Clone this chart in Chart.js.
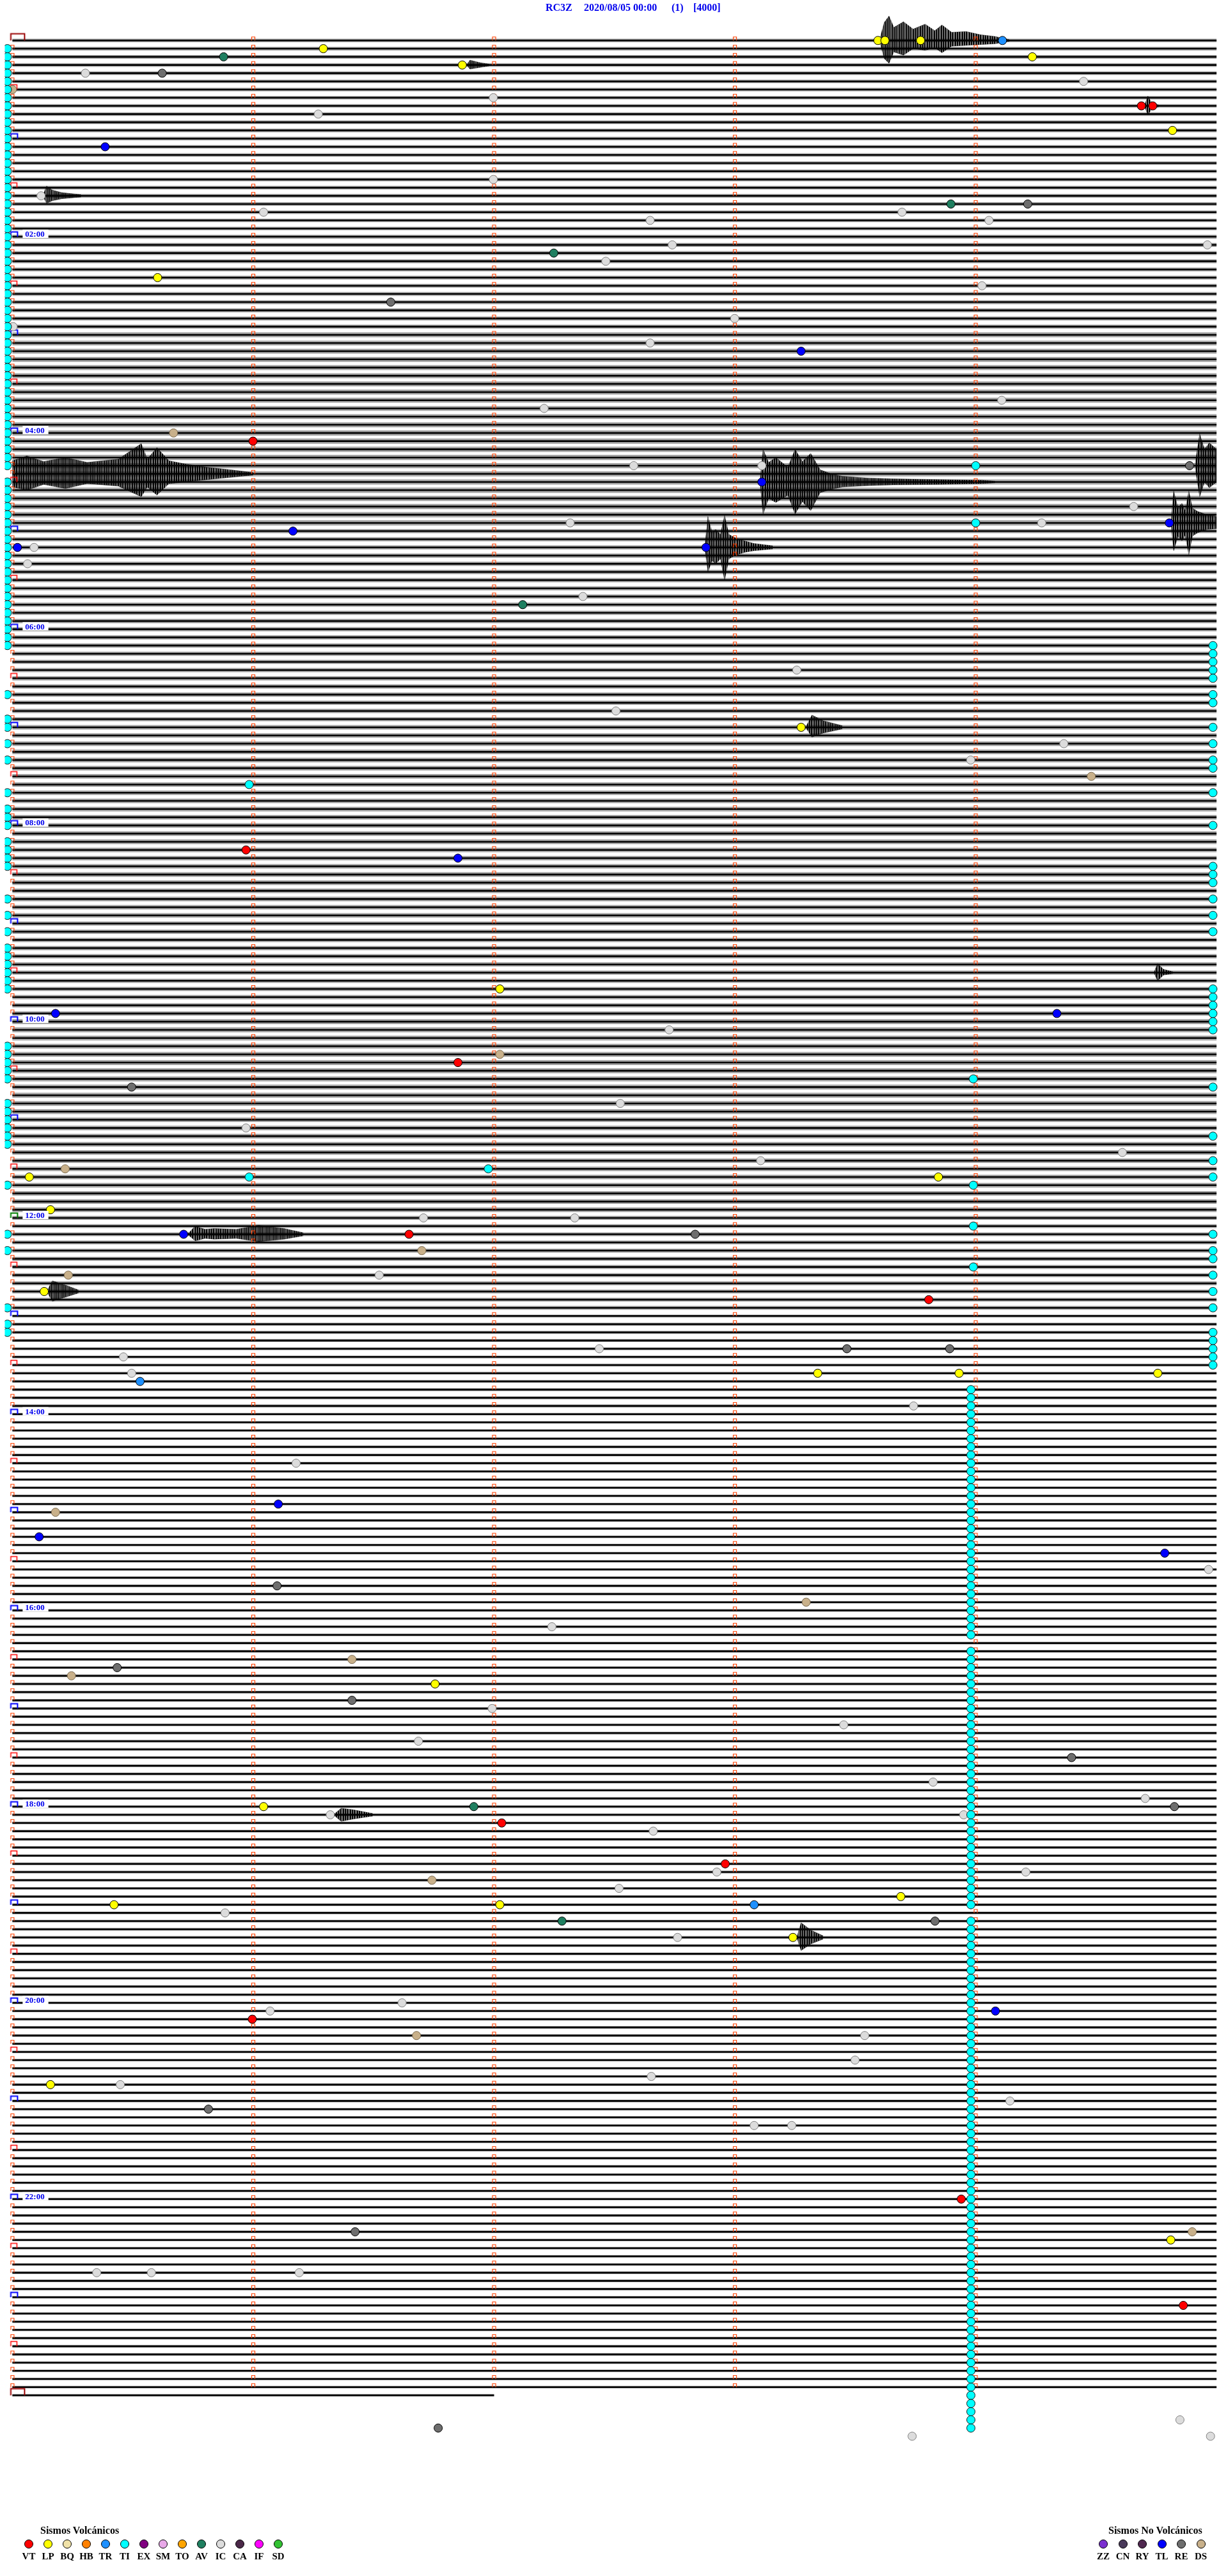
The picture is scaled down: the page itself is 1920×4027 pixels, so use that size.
<!DOCTYPE html>
<html>
<head>
<meta charset="utf-8">
<title>RC3Z 2020/08/05</title>
<script src="https://cdn.jsdelivr.net/npm/chart.js"></script>
<style>
  body { margin:0; background:#fff; }
  #wrap { position:relative; width:1920px; height:4027px; overflow:hidden; }
  #canvas { position:absolute; left:0; top:0; }
  .t { position:absolute; font-family:"Liberation Serif", "DejaVu Serif", serif; font-weight:bold; white-space:nowrap; }
  .title { top:3px; font-size:16px; color:#0000ee; }
  .lgTitle { top:3947px; font-size:16px; color:#000; }
  .lgLab { top:3988px; width:30px; text-align:center; font-size:15px; color:#000; }
  .dot { position:absolute; width:12px; height:12px; border-radius:50%; border:1px solid #000; top:3970px; }
</style>
</head>
<body>
<div id="wrap">
  <canvas id="canvas" width="1920" height="4027" style="width:1920px;height:4027px;"></canvas>
  <span class="t title" style="left:853px">RC3Z</span>
  <span class="t title" style="left:913px">2020/08/05 00:00</span>
  <span class="t title" style="left:1050px">(1)</span>
  <span class="t title" style="left:1084px">[4000]</span>
  <div id="legend"></div>
</div>
<script>
    // ---- drum layout: each trace row is 5 minutes, 12 rows per hour
    var ROW_MIN = 5;
    var LAST_ROW = 288;          // 24:00, only 2 minutes drawn
    var LAST_ROW_LEN = 2;

    var hourLabels = ['02:00','04:00','06:00','08:00','10:00','12:00','14:00','16:00','18:00','20:00','22:00'];
    var hourLabelRows = [24, 48, 72, 96, 120, 144, 168, 192, 216, 240, 264];

    // background noise per hour, half amplitude in rows
    var noiseByHour = [0.22,0.22,0.24,0.30,0.32,0.26,0.26,0.28,0.28,0.26,0.30,0.28,
                       0.24,0.18,0.16,0.16,0.17,0.17,0.17,0.17,0.16,0.16,0.16,0.16];

    // events: [row, minute inside row]
    var VT = [[8,4.688],[8,4.735],[49,0.999],[99,0.97],[125,1.85],[146,1.647],[154,3.805],
              [218,2.032],[223,2.96],[242,0.996],[264,3.94],[277,4.862]];
    var LP = [[0,3.594],[0,3.623],[0,3.771],[1,1.291],[2,4.235],[3,1.868],[11,4.817],[29,0.603],
              [84,3.275],[116,2.024],[139,3.845],[139,0.07],[143,0.158],[153,0.132],[163,3.344],
              [163,3.931],[163,4.756],[201,1.755],[216,1.043],[227,3.689],[228,0.422],[228,2.024],
              [232,3.241],[250,0.158],[269,4.81]];
    var TR = [[0,4.111],[164,0.53],[228,3.08]];
    var AV = [[2,0.877],[20,3.897],[26,2.248],[69,2.119],[216,1.916],[230,2.282]];
    var IC = [[4,0.303],[5,4.448],[7,1.997],[9,1.27],[17,1.997],[19,0.119],[21,1.043],[21,3.694],
              [22,4.055],[22,2.648],[25,2.74],[25,4.962],[27,2.464],[30,4.026],[34,2.999],[35,0.003],
              [37,2.648],[44,4.108],[45,2.208],[52,2.58],[52,3.112],[57,4.656],[59,2.316],[59,4.274],
              [62,0.09],[64,0.063],[68,2.369],[77,3.257],[82,2.506],[86,4.366],[88,3.979],[121,2.727],
              [130,2.524],[133,0.97],[136,4.609],[137,3.107],[144,2.335],[144,1.707],[151,1.523],
              [160,2.437],[161,0.461],[163,0.495],[167,3.742],[174,1.178],[187,4.967],[194,2.24],
              [204,1.992],[206,3.452],[208,1.686],[213,3.823],[215,4.704],[217,1.32],[217,3.95],
              [219,2.661],[224,2.925],[224,4.208],[226,2.519],[229,0.883],[232,2.762],[240,1.618],
              [241,1.07],[244,3.539],[247,3.499],[249,2.653],[250,0.448],[252,4.142],[255,3.08],
              [255,3.236],[273,0.35],[273,0.577],[273,1.191],[291,4.848],[293,3.736],[293,4.975]];
    var RE = [[4,0.622],[20,4.216],[32,1.571],[52,4.888],[128,0.495],[146,2.835],[160,3.465],
              [160,3.892],[189,1.099],[199,0.435],[203,1.41],[210,4.398],[216,4.825],[230,3.831],
              [253,0.814],[268,1.423],[292,1.768]];
    var DS = [[6,0.0],[48,0.669],[90,4.48],[124,2.024],[138,0.219],[148,1.70],[151,0.232],[180,0.179],
              [191,3.296],[198,1.41],[200,0.245],[225,1.742],[244,1.678],[268,4.899]];
    var TL = [[13,0.385],[38,3.275],[54,3.112],[59,4.804],[60,1.165],[62,0.021],[62,2.88],[100,1.85],
              [119,4.337],[119,0.179],[146,0.711],[179,1.104],[183,0.111],[185,4.785],[241,4.082]];

    // TI (tremor) markers: runs of rows at the row start, row end and at minute ~4
    var tiStartRuns = [[1,52],[54,74],[80,80],[83,84],[86,86],[88,88],[92,92],[94,96],[98,101],[105,105],
                       [107,107],[109,109],[111,116],[123,127],[130,135],[140,140],[146,146],[148,148],
                       [155,155],[157,158]];
    var tiEndRows = [74,75,76,77,78,80,81,84,86,88,89,92,96,101,102,103,105,107,109,116,117,118,119,
                     120,121,128,134,137,139,146,148,149,151,153,155,158,159,160,161,162];
    var tiColumnRuns = [[165,195],[197,228],[230,292]];
    var TI_OTHER = [[52,4.0],[59,4.0],[91,0.983],[127,3.99],[138,1.976],[139,0.983],[140,3.99],[145,3.99],[150,3.99]];

    // signal bursts: row and envelope [minute, up, down] in rows
    var burstRow = [0, 52, 53, 54, 59, 62, 19, 84, 146, 153, 217, 232, 3, 8, 114];
    var burstEnv = [
      [[3.60,0,0],[3.62,2.2,2.2],[3.64,3.0,2.8],[3.66,1.6,1.4],[3.70,2.3,1.8],[3.74,1.4,1.0],[3.79,2.0,1.2],[3.83,1.2,0.9],[3.86,1.9,1.5],[3.90,1.0,0.7],[3.96,1.1,0.6],[4.02,0.7,0.5],[4.08,0.5,0.4],[4.14,0.1,0.1]],
      [[4.91,0,0],[4.93,3.9,3.8],[4.95,2.0,2.0],[4.97,2.8,2.7],[5.0,2.0,2.0]],
      [[0.0,1.6,1.6],[0.06,2.2,2.0],[0.13,1.5,1.3],[0.22,2.0,1.8],[0.31,1.4,1.2],[0.44,1.8,1.5],[0.535,3.7,2.8],[0.56,1.8,1.6],[0.60,3.2,2.6],[0.65,1.6,1.2],[0.72,1.2,1.0],[0.81,0.8,0.7],[0.92,0.45,0.4],[1.0,0.15,0.15]],
      [[3.104,0,0],[3.117,4.0,3.9],[3.14,2.4,2.0],[3.17,3.0,2.5],[3.22,1.8,1.6],[3.25,4.0,3.9],[3.28,2.5,2.4],[3.315,3.5,3.5],[3.354,1.5,1.3],[3.40,1.0,0.9],[3.447,0.7,0.6],[3.55,0.5,0.45],[3.657,0.4,0.35],[3.85,0.3,0.3],[4.026,0.22,0.2],[4.08,0.1,0.1]],
      [[4.811,0,0],[4.822,3.9,3.4],[4.84,1.8,1.6],[4.856,2.4,2.2],[4.87,1.5,1.5],[4.885,3.9,3.9],[4.90,1.8,1.6],[4.922,1.4,1.2],[4.96,1.0,0.8],[5.0,0.8,0.7]],
      [[2.875,0,0],[2.888,3.8,3.0],[2.905,1.8,1.6],[2.92,2.2,2.0],[2.94,1.6,1.4],[2.957,3.9,4.0],[2.975,1.6,1.4],[2.999,1.2,1.0],[3.04,0.8,0.6],[3.078,0.5,0.4],[3.157,0.2,0.2]],
      [[0.126,0,0],[0.142,1.2,0.9],[0.166,0.7,0.6],[0.205,0.4,0.35],[0.285,0.15,0.15]],
      [[3.294,0,0],[3.32,1.5,1.2],[3.367,0.8,0.7],[3.447,0.2,0.2]],
      [[0.727,0,0],[0.759,1.0,0.8],[0.80,0.6,0.5],[0.838,0.7,0.6],[0.93,0.6,0.5],[1.022,1.1,0.9],[1.128,0.7,0.6],[1.207,0.2,0.2]],
      [[0.142,0,0],[0.166,1.3,1.2],[0.219,0.8,0.7],[0.274,0.2,0.2]],
      [[1.333,0,0],[1.365,0.8,0.8],[1.418,0.6,0.5],[1.497,0.15,0.15]],
      [[3.257,0,0],[3.275,1.8,1.6],[3.315,0.9,0.8],[3.367,0.2,0.2]],
      [[1.885,0,0],[1.90,0.6,0.5],[1.94,0.3,0.3],[1.98,0.1,0.1]],
      [[4.70,0,0],[4.715,1.2,1.1],[4.73,0.4,0.4],[4.76,0.1,0.1]],
      [[4.74,0,0],[4.755,1.1,1.0],[4.78,0.4,0.3],[4.82,0.1,0.1]]
    ];

    var volcLabels = ['VT','LP','BQ','HB','TR','TI','EX','SM','TO','AV','IC','CA','IF','SD'];
    var volcColors = ['#ff0000','#ffff00','#f0e2a8','#ff8000','#1e90ff','#00ffff','#800080','#e8a8e8',
                      '#ffa500','#1f7f60','#dcdcdc','#4b2848','#ff00ff','#33c233'];
    var noVolcLabels = ['ZZ','CN','RY','TL','RE','DS'];
    var noVolcColors = ['#7b2fd0','#4a3a5a','#502850','#0000ff','#6e6e6e','#c8b08a'];

    // ---- page geometry (pixels)
    var LEFT_PX = 12, MIN_PX = 379.5, TOP_PX = 56, ROW_PX = 12.83;
    var W = 1920, H = 4027;

    function expandRuns(runs) {
        var out = [];
        runs.forEach(function (r) { for (var i = r[0]; i <= r[1]; i++) out.push(i); });
        return out;
    }
    function rowLen(r) { return r === LAST_ROW ? LAST_ROW_LEN : ROW_MIN; }
    function rowPx(chart) {
        var y = chart.scales.y;
        return Math.abs(y.getPixelForValue(1) - y.getPixelForValue(0));
    }
    function pts(list) { return list.map(function (e) { return {x: e[1], y: e[0]}; }); }

    // small bracket images for the row start / minute marks, centred on the anchor point
    function mark(left, right, top, color, lw) {
        var c = document.createElement('canvas');
        var half = Math.ceil(Math.max(Math.abs(left), Math.abs(right))) + 2;
        var vh = Math.ceil(Math.abs(top)) + 2;
        c.width = half * 2; c.height = vh * 2;
        var g = c.getContext('2d');
        g.strokeStyle = color; g.lineWidth = lw;
        g.beginPath();
        g.moveTo(half + left, vh); g.lineTo(half + left, vh + top);
        g.lineTo(half + right, vh + top); g.lineTo(half + right, vh);
        g.stroke();
        return c;
    }
    var tickImg = mark(-2.5, 2.5, -5.5, '#ff4000', 1.2);
    var halfImg = mark(-2.5, 7, -7.5, '#ff0000', 1.5);
    var hourImg = mark(-2.5, 8, -7.5, '#0000ff', 2);
    var noonImg = mark(-2.5, 8, -7.5, '#008000', 2);
    var dayImg = mark(-2.5, 19, -10.5, '#990000', 2);

    // uneven vertical hatching so burst areas read as dense spikes
    var hatch = (function () {
        var c = document.createElement('canvas');
        c.width = 11; c.height = 4;
        var g = c.getContext('2d');
        g.fillStyle = '#000';
        [0, 1, 3, 4, 6, 8, 9].forEach(function (x) { g.fillRect(x, 0, 1, 4); });
        g.fillStyle = 'rgba(0,0,0,0.35)';
        [2, 5, 7, 10].forEach(function (x) { g.fillRect(x, 0, 1, 4); });
        return g.createPattern(c, 'repeat');
    })();

    // ---- datasets
    var datasets = [];
    var allRows = [];
    for (var r = 0; r <= LAST_ROW; r++) allRows.push(r);

    // noise halo per hour
    for (var h = 0; h < 25; h++) {
        var d = [];
        allRows.filter(function (r) { return Math.floor(r / 12) === h; }).forEach(function (r) {
            d.push({x: 0, y: r}, {x: rowLen(r), y: r}, {x: rowLen(r), y: null});
        });
        if (!d.length) continue;
        (function (n) {
            datasets.push({
                data: d, order: 6, borderColor: 'rgba(0,0,0,0.36)', pointRadius: 0, spanGaps: false,
                borderWidth: function (c) { return n * 2 * rowPx(c.chart); }
            });
        })(noiseByHour[Math.min(h, 23)]);
    }
    // core trace
    var core = [];
    allRows.forEach(function (r) { core.push({x: 0, y: r}, {x: rowLen(r), y: r}, {x: rowLen(r), y: null}); });
    datasets.push({data: core, order: 5, borderColor: '#000', borderWidth: 2.6, pointRadius: 0, spanGaps: false});

    // bursts
    burstRow.forEach(function (r, i) {
        var env = burstEnv[i];
        datasets.push({data: env.map(function (p) { return {x: p[0], y: r - p[1]}; }), order: 4,
            borderColor: 'rgba(0,0,0,0.45)', borderWidth: 0.8, pointRadius: 0, tension: 0,
            fill: {value: r}, backgroundColor: hatch});
        datasets.push({data: env.map(function (p) { return {x: p[0], y: r + p[2]}; }), order: 4,
            borderColor: 'rgba(0,0,0,0.45)', borderWidth: 0.8, pointRadius: 0, tension: 0,
            fill: {value: r}, backgroundColor: hatch});
    });

    // minute marks and row start marks
    var ticks = [], startSmall = [], startHalf = [], startHour = [], startNoon = [], startDay = [];
    allRows.forEach(function (r) {
        if (r < LAST_ROW) for (var m = 1; m < ROW_MIN; m++) ticks.push({x: m, y: r});
        if (r === 0 || r === LAST_ROW) startDay.push({x: 0, y: r});
        else if (r === 144) startNoon.push({x: 0, y: r});
        else if (r % 12 === 0) startHour.push({x: 0, y: r});
        else if (r % 12 === 6) startHalf.push({x: 0, y: r});
        else startSmall.push({x: 0, y: r});
    });
    [[ticks, tickImg], [startSmall, tickImg], [startHalf, halfImg], [startHour, hourImg],
     [startNoon, noonImg], [startDay, dayImg]].forEach(function (s) {
        datasets.push({data: s[0], order: 3, showLine: false, pointStyle: s[1], pointRadius: 5});
    });

    // event markers
    var tiPts = [];
    expandRuns(tiStartRuns).forEach(function (r) { tiPts.push([r, -0.021]); });
    tiEndRows.forEach(function (r) { tiPts.push([r, 4.985]); });
    expandRuns(tiColumnRuns).forEach(function (r) { tiPts.push([r, 3.98]); });
    tiPts = tiPts.concat(TI_OTHER);

    function markerSet(list, color, border) {
        datasets.push({data: pts(list), order: 1, showLine: false, pointRadius: 6.5,
            pointBackgroundColor: color, pointBorderColor: border || '#000', pointBorderWidth: 1});
    }
    markerSet(tiPts, '#00ffff', '#1a1a1a');
    markerSet(IC, '#dcdcdc', '#808080');
    markerSet(RE, '#6e6e6e');
    markerSet(DS, '#c8b08a', '#7a6a50');
    markerSet(AV, '#1f7f60');
    markerSet(TR, '#1e90ff');
    markerSet(TL, '#0000ff');
    markerSet(LP, '#ffff00');
    markerSet(VT, '#ff0000');

    // hour labels drawn on the trace rows
    var hourLabelPlugin = {
        id: 'hourLabels',
        afterDatasetsDraw: function (chart) {
            var c = chart.ctx, xs = chart.scales.x, ys = chart.scales.y;
            c.save();
            c.font = 'bold 13px "Liberation Serif", serif';
            hourLabelRows.forEach(function (r, i) {
                var x = xs.getPixelForValue(0.053), y = ys.getPixelForValue(r);
                var w = c.measureText(hourLabels[i]).width;
                c.fillStyle = '#fff';
                c.fillRect(x - 4, y - 11, w + 10, 13);
                c.fillStyle = '#0000ee';
                c.fillText(hourLabels[i], x, y);
            });
            c.restore();
        }
    };

    var ctx = document.getElementById('canvas').getContext('2d');
    var chart = new Chart(ctx, {
        type: 'line',
        data: {datasets: datasets},
        options: {
            responsive: false,
            animation: false,
            devicePixelRatio: 1,
            events: [],
            layout: {padding: 0},
            elements: {line: {tension: 0}},
            plugins: {legend: {display: false}, tooltip: {enabled: false}},
            scales: {
                x: {type: 'linear', display: false, min: -LEFT_PX / MIN_PX, max: (W - LEFT_PX) / MIN_PX},
                y: {type: 'linear', display: false, reverse: true, min: -TOP_PX / ROW_PX, max: (H - TOP_PX) / ROW_PX}
            }
        },
        plugins: [hourLabelPlugin]
    });

    // ---- legends (html text)
    var lg = document.getElementById('legend');
    function addLegend(labels, colors, x0, step, title, titleX) {
        var t = document.createElement('span');
        t.className = 't lgTitle'; t.style.left = titleX + 'px'; t.textContent = title;
        lg.appendChild(t);
        labels.forEach(function (l, i) {
            var cx = x0 + i * step;
            var dot = document.createElement('div');
            dot.className = 'dot'; dot.style.left = (cx - 7) + 'px'; dot.style.background = colors[i];
            lg.appendChild(dot);
            var s = document.createElement('span');
            s.className = 't lgLab'; s.style.left = (cx - 15) + 'px'; s.textContent = l;
            lg.appendChild(s);
        });
    }
    addLegend(volcLabels, volcColors, 45, 30, 'Sismos Volcánicos', 63);
    addLegend(noVolcLabels, noVolcColors, 1725, 30.5, 'Sismos No Volcánicos', 1733);
</script>
</body>
</html>
